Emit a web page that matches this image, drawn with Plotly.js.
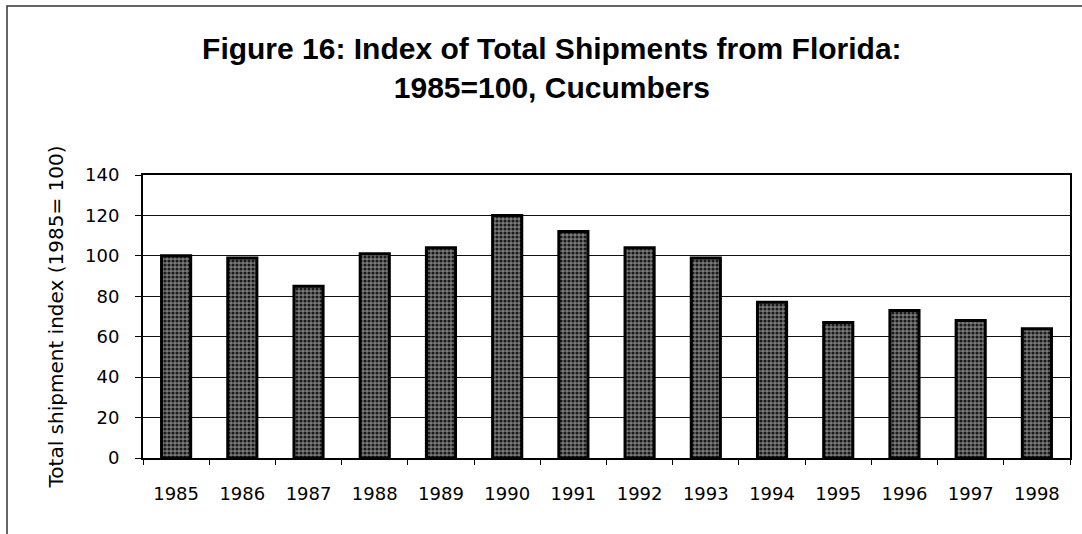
<!DOCTYPE html>
<html>
<head>
<meta charset="utf-8">
<script src="https://cdn.plot.ly/plotly-3.0.1.min.js"></script>
<style>html,body{margin:0;padding:0;background:#fff;}#chart{width:1082px;height:534px;}</style>
</head>
<body>
<div id="chart"></div>
<script>
const years = ["1985","1986","1987","1988","1989","1990","1991","1992","1993","1994","1995","1996","1997","1998"];
const shipmentIndex = [100, 99, 85, 101, 104, 120, 112, 104, 99, 77, 67, 73, 68, 64];
const yTicks = [0, 20, 40, 60, 80, 100, 120, 140];

const titleText = "Figure 16: Index of Total Shipments from Florida:<br>1985=100, Cucumbers";
const yTitleText = "Total shipment index (1985= 100)";

const trace = {
  type: "bar",
  x: years,
  y: shipmentIndex,
  width: 0.44,
  marker: {
    color: "#555",
    line: {color: "#000", width: 3},
    pattern: {shape: ".", fgcolor: "#1a1a1a", bgcolor: "#7a7a7a", size: 4, solidity: 0.5}
  },
  hoverinfo: "x+y"
};

const layout = {
  width: 1082,
  height: 534,
  paper_bgcolor: "#fff",
  plot_bgcolor: "#fff",
  margin: {l: 143, r: 12, t: 175, b: 76},
  showlegend: false,
  title: {
    text: titleText,
    x: 0.51, xref: "container", xanchor: "center",
    y: 0.89, yref: "container", yanchor: "middle",
    font: {family: "Liberation Sans, Arial, sans-serif", size: 30, color: "#000", weight: "bold"}
  },
  xaxis: {
    type: "category",
    showline: true, linecolor: "#000", linewidth: 2, mirror: true,
    ticks: "outside", tickson: "boundaries", ticklen: 5, tickcolor: "#000", tickwidth: 1,
    ticklabelstandoff: 18,
    tickfont: {family: "DejaVu Sans, Verdana, sans-serif", size: 18, color: "#000"},
    showgrid: false, zeroline: false, fixedrange: true
  },
  yaxis: {
    range: [0, 140],
    tickvals: yTicks,
    ticktext: yTicks.map(String),
    showline: true, linecolor: "#000", linewidth: 2, mirror: true,
    ticks: "outside", ticklen: 6, tickcolor: "#000", tickwidth: 1,
    ticklabelstandoff: 12,
    tickfont: {family: "DejaVu Sans, Verdana, sans-serif", size: 18, color: "#000"},
    showgrid: true, gridcolor: "#111", gridwidth: 1,
    zeroline: false, fixedrange: true,
    title: {
      text: yTitleText,
      standoff: 16,
      font: {family: "DejaVu Sans, Verdana, sans-serif", size: 20, color: "#000"}
    }
  },
  shapes: [
    {type: "rect", xref: "paper", yref: "paper",
     x0: (7 - 143) / 927, x1: (1100 - 143) / 927,
     y0: (458 - 560) / 283, y1: (458 - 6) / 283,
     line: {color: "#333", width: 1.5}, fillcolor: "rgba(0,0,0,0)", layer: "below"}
  ],
  bargap: 0.5
};

Plotly.newPlot("chart", [trace], layout, {displayModeBar: false, staticPlot: true});
</script>
</body>
</html>
